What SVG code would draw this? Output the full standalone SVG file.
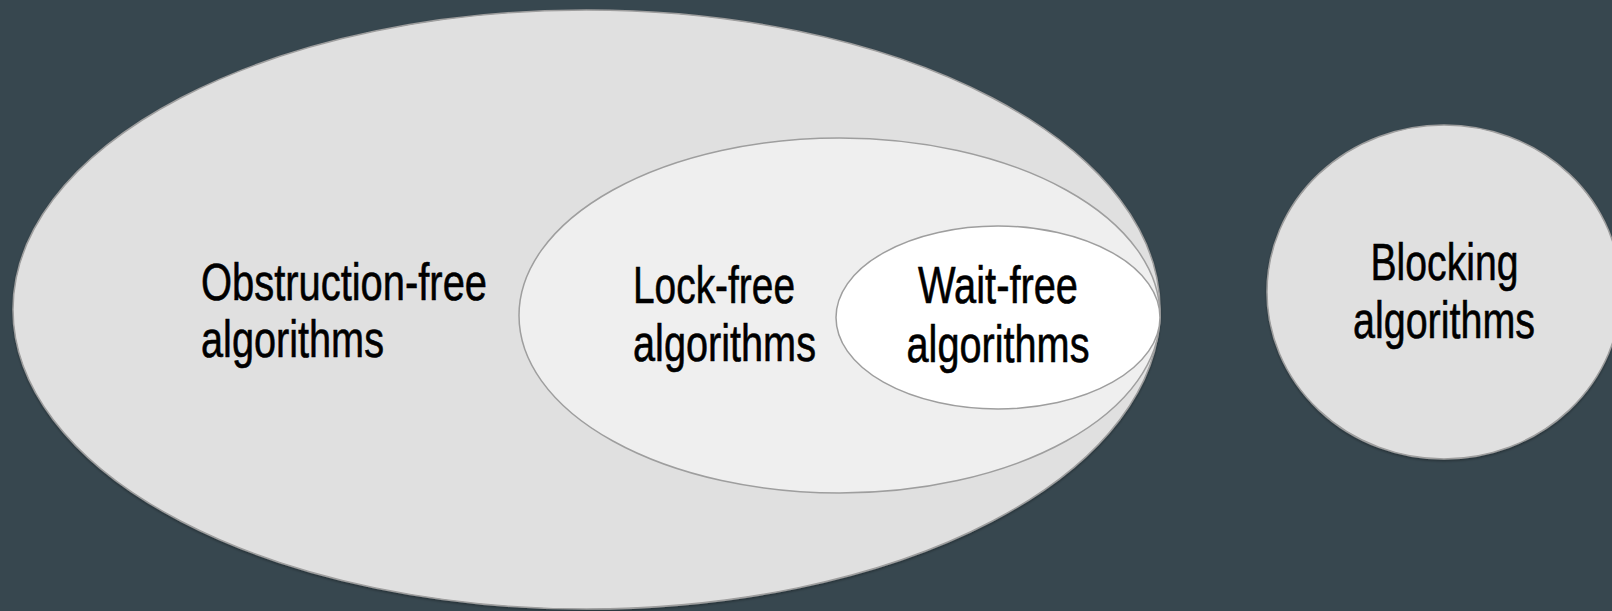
<svg xmlns="http://www.w3.org/2000/svg" width="1612" height="611" viewBox="0 0 1612 611">
  <style>
    .set { stroke: #9e9e9e; stroke-width: 1.5; }
    .outer { fill: #e0e0e0; }
    .mid { fill: #efefef; }
    .inner { fill: #ffffff; }
    .label { font-family: "Liberation Sans", Arial, sans-serif; font-size: 52px; fill: #000000; stroke: #000000; stroke-width: 0.6; }
  </style>
  <defs>
    <filter id="shade" x="-5%" y="-5%" width="110%" height="110%">
      <feDropShadow dx="0" dy="1.5" stdDeviation="1" flood-color="#000" flood-opacity="0.3"/>
    </filter>
  </defs>
  <rect width="1612" height="611" fill="#37474f"/>

  <g id="obstruction-free">
    <ellipse class="set outer" cx="586.5" cy="309.5" rx="573.5" ry="299.5" filter="url(#shade)"/>
    <text class="label" x="201" y="300" textLength="286" lengthAdjust="spacingAndGlyphs">Obstruction-free</text>
    <text class="label" x="201" y="357" textLength="183" lengthAdjust="spacingAndGlyphs">algorithms</text>
  </g>

  <g id="lock-free">
    <ellipse class="set mid" cx="839.5" cy="315.5" rx="320.5" ry="177.5"/>
    <text class="label" x="633" y="303" textLength="162" lengthAdjust="spacingAndGlyphs">Lock-free</text>
    <text class="label" x="633" y="361" textLength="183" lengthAdjust="spacingAndGlyphs">algorithms</text>
  </g>

  <g id="wait-free">
    <ellipse class="set inner" cx="998" cy="317.5" rx="162" ry="91.5"/>
    <text class="label" x="998" y="303" text-anchor="middle" textLength="160" lengthAdjust="spacingAndGlyphs">Wait-free</text>
    <text class="label" x="998" y="361.5" text-anchor="middle" textLength="183" lengthAdjust="spacingAndGlyphs">algorithms</text>
  </g>

  <g id="blocking">
    <ellipse class="set outer" cx="1444" cy="292" rx="177" ry="167" filter="url(#shade)"/>
    <text class="label" x="1444.5" y="280" text-anchor="middle" textLength="148" lengthAdjust="spacingAndGlyphs">Blocking</text>
    <text class="label" x="1444" y="338" text-anchor="middle" textLength="182" lengthAdjust="spacingAndGlyphs">algorithms</text>
  </g>

  <g id="connectors"></g>
</svg>
